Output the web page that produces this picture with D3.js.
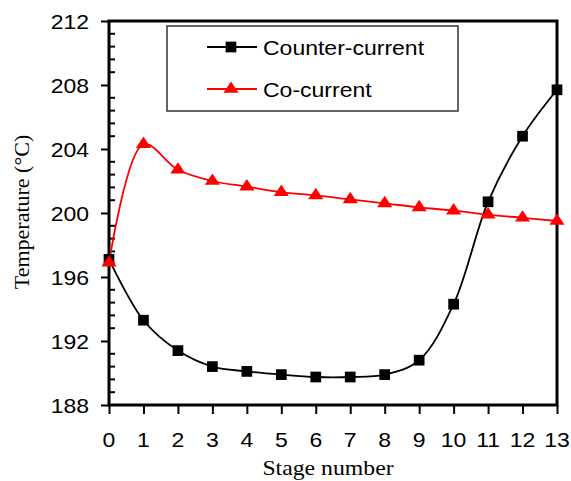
<!DOCTYPE html>
<html>
<head>
<meta charset="utf-8">
<script src="https://cdn.jsdelivr.net/npm/d3@7"></script>
<style>
  html, body { margin: 0; padding: 0; background: #fff; }
  svg { display: block; }
</style>
</head>
<body>
<div id="chart"></div>
<script>
// ---- data ----
const stages = [0, 1, 2, 3, 4, 5, 6, 7, 8, 9, 10, 11, 12, 13];
const counterCurrent = [197.1, 193.3, 191.4, 190.4, 190.1, 189.9, 189.75, 189.75, 189.9, 190.8, 194.3, 200.7, 204.8, 207.7];
const coCurrent = [196.9, 204.3, 202.7, 202.0, 201.65, 201.3, 201.1, 200.85, 200.6, 200.35, 200.15, 199.9, 199.7, 199.5];
const yTicks = [188, 192, 196, 200, 204, 208, 212];
const seriesNames = ["Counter-current", "Co-current"];

const W = 571, H = 481;
const margin = { left: 109, top: 21, right: 14, bottom: 76 };
const svg = d3.select("#chart").append("svg").attr("width", W).attr("height", H);

const x = d3.scaleLinear().domain([0, 13]).range([margin.left, W - margin.right]);
const y = d3.scaleLinear().domain([188, 212]).range([H - margin.bottom, margin.top]);

const sans = "'Liberation Sans', Arial, sans-serif";
const serif = "'Liberation Serif', 'Times New Roman', serif";
const SX = 1.15;

function label(g, tx, ty, txt, opts) {
  const t = g.append("text")
    .attr("transform", `translate(${tx},${ty}) ${opts.rotate ? "rotate(" + opts.rotate + ")" : ""} scale(${opts.sx || 1},1)`)
    .attr("font-family", opts.family || sans)
    .attr("font-size", opts.size || 20)
    .attr("text-anchor", opts.anchor || "middle")
    .attr("fill", opts.fill || "#000")
    .text(txt);
  return t;
}

// minor y ticks (inward)
const minorY = d3.range(188, 212.001, 0.8).filter(v => !yTicks.some(t => Math.abs(t - v) < 1e-6));
svg.append("g").selectAll("line").data(minorY).join("line")
  .attr("x1", x(0)).attr("x2", x(0) + 6)
  .attr("y1", d => y(d)).attr("y2", d => y(d))
  .attr("stroke", "#000").attr("stroke-width", 2);

// y axis
const yAxis = svg.append("g").attr("transform", `translate(${x(0)},0)`)
  .call(d3.axisLeft(y).tickValues(yTicks).tickSize(8).tickFormat(""));
yAxis.select(".domain").remove();
yAxis.selectAll(".tick line").attr("stroke", "#000").attr("stroke-width", 2);
yTicks.forEach(v => label(svg, 89, y(v) + 7.5, String(v), { anchor: "end", sx: SX, size: 20 }));

// x axis
const xAxis = svg.append("g").attr("transform", `translate(0,${y(188)})`)
  .call(d3.axisBottom(x).tickValues(stages).tickSize(9).tickFormat(""));
xAxis.select(".domain").remove();
xAxis.selectAll(".tick line").attr("stroke", "#000").attr("stroke-width", 2);
stages.forEach(v => label(svg, x(v), 447, String(v), { sx: SX, size: 20 }));

// frame
svg.append("rect")
  .attr("x", x(0)).attr("y", y(212))
  .attr("width", x(13) - x(0)).attr("height", y(188) - y(212))
  .attr("fill", "none").attr("stroke", "#000").attr("stroke-width", 3);

// axis titles
label(svg, 29, 212, "Temperature (°C)", { family: serif, size: 22, rotate: -90, sx: 1.0 });
label(svg, 328, 475, "Stage number", { family: serif, size: 22, sx: 1.08 });

// lines
const line = d3.line().x(d => x(d[0])).y(d => y(d[1])).curve(d3.curveCatmullRom.alpha(0.5));
const ccData = stages.map((s, i) => [s, counterCurrent[i]]);
const coData = stages.map((s, i) => [s, coCurrent[i]]);

svg.append("path").datum(ccData).attr("d", line)
  .attr("fill", "none").attr("stroke", "#000").attr("stroke-width", 1.8);
svg.append("path").datum(coData).attr("d", line)
  .attr("fill", "none").attr("stroke", "#ff0000").attr("stroke-width", 1.8);

const sq = d3.symbol().type(d3.symbolSquare).size(115);
const tri = d3.symbol().type(d3.symbolTriangle).size(75);

svg.append("g").selectAll("path").data(ccData).join("path")
  .attr("d", sq).attr("transform", d => `translate(${x(d[0])},${y(d[1])})`).attr("fill", "#000");
svg.append("g").selectAll("path").data(coData).join("path")
  .attr("d", tri).attr("transform", d => `translate(${x(d[0])},${y(d[1])}) scale(1.15,1)`).attr("fill", "#ff0000");

// legend
const lg = svg.append("g");
lg.append("rect").attr("x", 167).attr("y", 26).attr("width", 291).attr("height", 85)
  .attr("fill", "#fff").attr("stroke", "#333").attr("stroke-width", 1.5);
const rows = [
  { name: seriesNames[0], color: "#000", sym: sq, ty: 47 },
  { name: seriesNames[1], color: "#ff0000", sym: tri, ty: 89 }
];
rows.forEach(r => {
  lg.append("line").attr("x1", 207).attr("x2", 257).attr("y1", r.ty).attr("y2", r.ty)
    .attr("stroke", r.color).attr("stroke-width", 1.8);
  lg.append("path").attr("d", r.sym)
    .attr("transform", `translate(231,${r.ty}) ${r.sym === tri ? "scale(1.15,1)" : ""}`)
    .attr("fill", r.color);
  label(lg, 263, r.ty + 7.5, r.name, { anchor: "start", sx: SX, size: 20 });
});
</script>
</body>
</html>
